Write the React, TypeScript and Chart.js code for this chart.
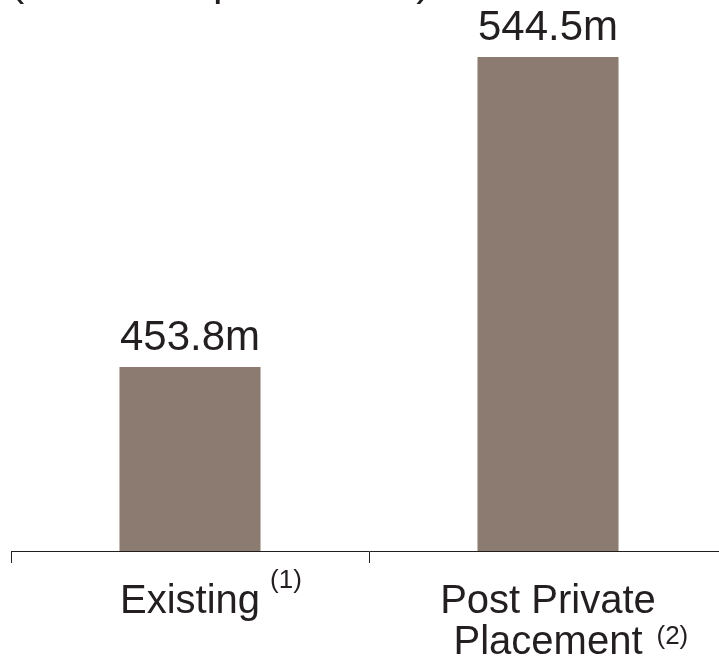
import { useEffect, useRef } from 'react';
import { Chart, registerables } from 'chart.js';

Chart.register(...registerables);

const categories = ['Existing', 'Post Private Placement'];
const values = [453.8, 544.5];
const valueLabels = ['453.8m', '544.5m'];
const labelLines = [['Existing'], ['Post Private', 'Placement']];
const footnotes = ['(1)', '(2)'];
const titleText = '(Market capitalisation)';
const yMin = 400;
const yMax = 560;

const FONT = "Arial, 'Liberation Sans', sans-serif";
const TEXT = '#231f20';
const BAR = '#8b7b70';

const textPlugin = {
  id: 'customTexts',
  afterDraw(chart: any) {
    const ctx = chart.ctx;
    const xs = chart.scales.x;
    const meta = chart.getDatasetMeta(0);
    ctx.save();
    ctx.fillStyle = TEXT;
    ctx.textBaseline = 'alphabetic';

    // clipped title above the chart
    ctx.font = `43px ${FONT}`;
    ctx.textAlign = 'left';
    ctx.fillText(titleText, 10, -5);

    // value labels
    ctx.font = `42px ${FONT}`;
    ctx.textAlign = 'center';
    meta.data.forEach((bar: any, i: number) => {
      ctx.fillText(valueLabels[i], bar.x, bar.y - 17);
    });

    // category labels with superscripts
    categories.forEach((_, i) => {
      const c = xs.getPixelForValue(i);
      const lines = labelLines[i];
      ctx.font = `40px ${FONT}`;
      ctx.textAlign = 'center';
      let baseline = 613;
      let lastRight = c;
      lines.forEach((l, j) => {
        baseline = 613 + j * 41;
        const w = ctx.measureText(l).width;
        ctx.fillText(l, c, baseline);
        lastRight = c + w / 2;
      });
      const multi = lines.length > 1;
      ctx.font = `26px ${FONT}`;
      ctx.textAlign = 'left';
      ctx.fillText(footnotes[i], lastRight + (multi ? 14 : 10), baseline - (multi ? 10 : 25));
    });
    ctx.restore();
  },
};

export default function App() {
  const ref = useRef<HTMLCanvasElement>(null);
  useEffect(() => {
    const canvas = ref.current;
    if (!canvas) return;
    const chart = new Chart(canvas, {
      type: 'bar',
      data: {
        labels: categories,
        datasets: [
          {
            data: values,
            backgroundColor: BAR,
            borderWidth: 0,
            categoryPercentage: 1,
            barPercentage: 0.394,
          },
        ],
      },
      options: {
        responsive: false,
        animation: false,
        devicePixelRatio: 1,
        layout: { padding: { left: 11, right: 1, top: 4, bottom: 0 } },
        plugins: {
          legend: { display: false },
          tooltip: { enabled: false },
          title: { display: false },
        },
        scales: {
          x: {
            display: true,
            offset: true,
            grid: {
              display: true,
              offset: true,
              drawOnChartArea: false,
              drawTicks: true,
              tickLength: 12,
              color: TEXT,
              lineWidth: 1,
            },
            border: { display: true, color: TEXT, width: 1 },
            ticks: { display: false },
            afterFit: (s: any) => {
              s.height = 113;
            },
          },
          y: {
            display: false,
            min: yMin,
            max: yMax,
          },
        },
      },
      plugins: [textPlugin],
    });
    return () => chart.destroy();
  }, []);
  return (
    <div
      style={{
        position: 'fixed',
        left: 0,
        top: 0,
        width: 719,
        height: 664,
        overflow: 'hidden',
        background: '#fff',
      }}
    >
      <canvas ref={ref} width={728} height={664} style={{ display: 'block' }} />
    </div>
  );
}
